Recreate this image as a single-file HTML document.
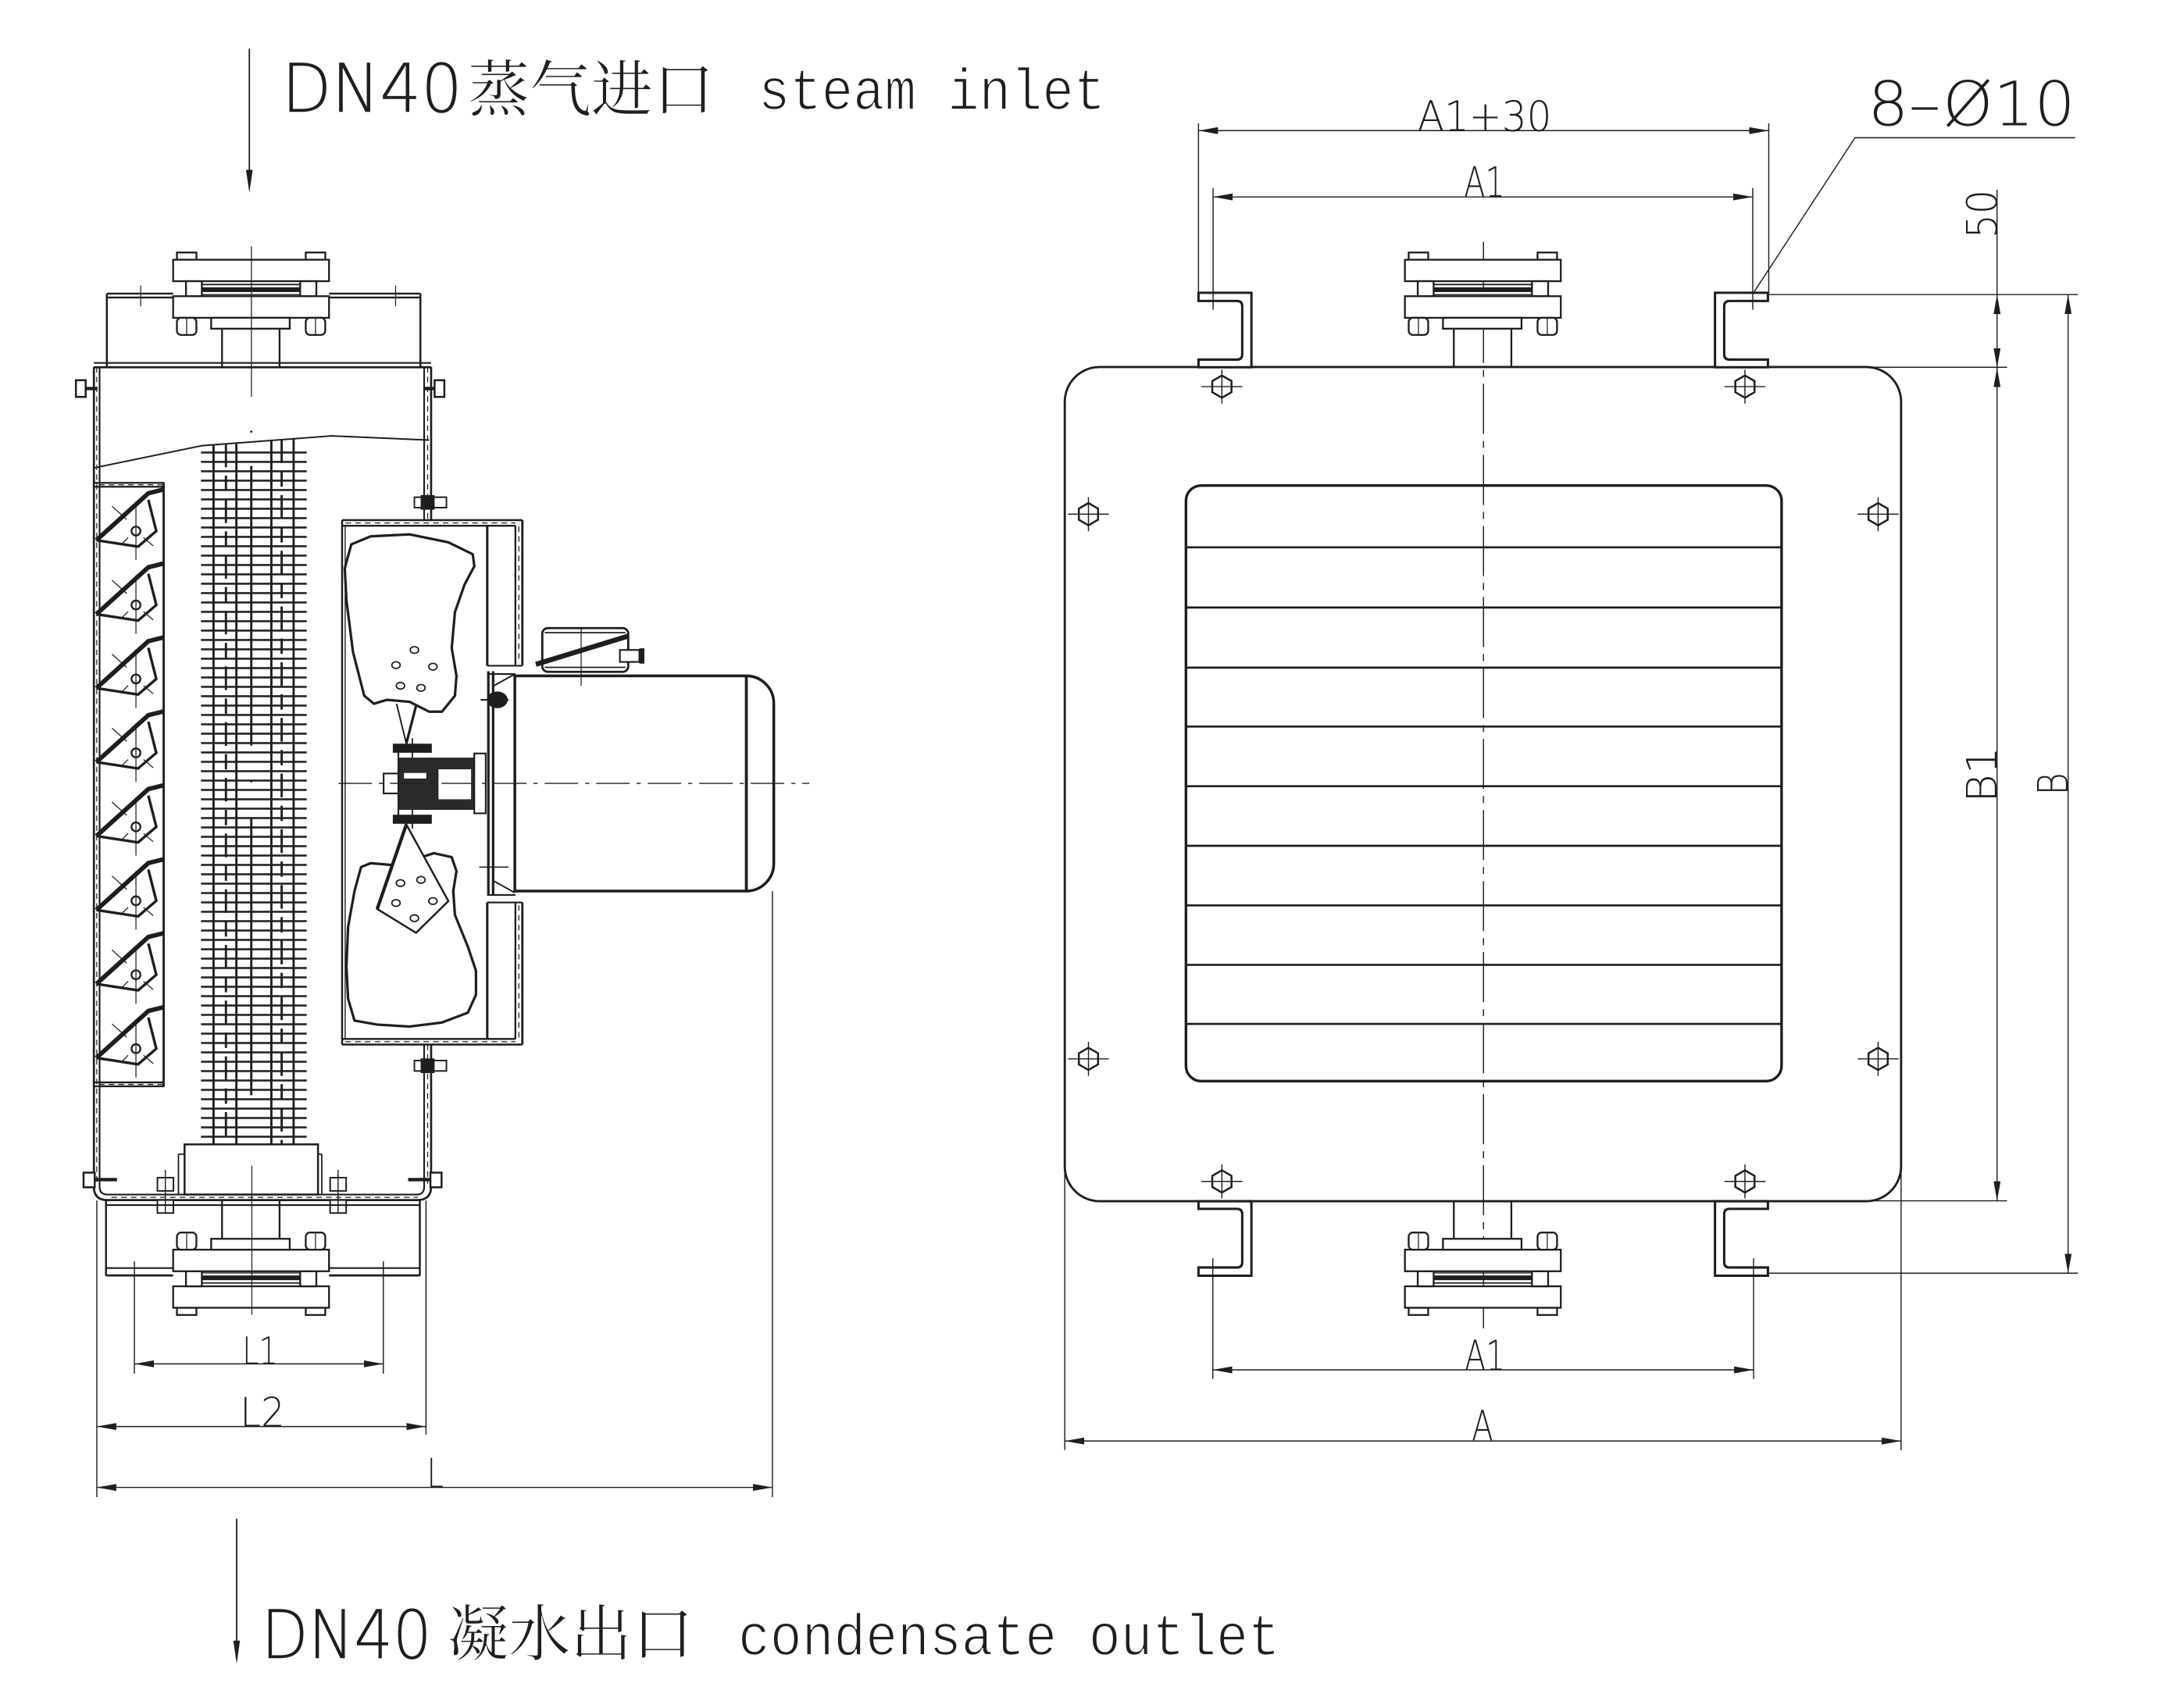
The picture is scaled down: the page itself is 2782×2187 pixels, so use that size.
<!DOCTYPE html>
<html><head><meta charset="utf-8">
<style>
html,body{margin:0;padding:0;background:#fff;}
svg{display:block;}
</style></head><body>
<svg xmlns="http://www.w3.org/2000/svg" width="2782" height="2187" viewBox="0 0 1560 1226.4" preserveAspectRatio="none">
<defs>
 <marker id="ar" viewBox="0 0 14 5" refX="14" refY="2.5" markerWidth="14" markerHeight="5" markerUnits="userSpaceOnUse" orient="auto-start-reverse"><path d="M0,0 L14,2.5 L0,5 z" fill="#1e1e1e"/></marker>
 <pattern id="fins" patternUnits="userSpaceOnUse" x="0" y="324.2" width="200" height="6.73"><rect x="0" y="0" width="200" height="1.45" fill="#222"/></pattern>
 <g id="lv" fill="none" stroke="#1e1e1e">
  <polyline points="69.2,387.9 106.5,354.2 117.8,351.4" stroke-width="3.2"/>
  <polyline points="69.2,387.9 99.1,392.5 112.2,381.3 106.5,358.9" stroke-width="1.9"/>
  <circle cx="97.6" cy="381.3" r="3.2" stroke-width="1.3"/>
  <line x1="97.6" y1="360" x2="97.6" y2="402" stroke-width="0.7"/>
  <line x1="80.4" y1="363.5" x2="91" y2="373" stroke-width="0.7"/>
  <line x1="103" y1="386" x2="110" y2="392" stroke-width="0.7"/>
  <line x1="92" y1="386" x2="87" y2="391" stroke-width="0.7"/>
 </g>
 <g id="mk" fill="none" stroke="#1e1e1e">
  <polygon points="0,-8 6.9,-4 6.9,4 0,8 -6.9,4 -6.9,-4" stroke-width="1.4"/>
  <line x1="-14.7" y1="0" x2="14.7" y2="0" stroke-width="0.8"/>
  <line x1="0" y1="-12.2" x2="0" y2="12.2" stroke-width="0.8"/>
 </g>
 <g id="fl" fill="#fff" stroke="#1e1e1e" stroke-width="1.3">
  <rect x="127" y="181.3" width="14" height="5.2"/>
  <rect x="219.5" y="181.3" width="14" height="5.2"/>
  <rect x="124.3" y="186.5" width="111.9" height="15.4"/>
  <rect x="133.5" y="201.9" width="11.4" height="10.8"/>
  <rect x="215.5" y="201.9" width="11.6" height="10.8"/>
  <line x1="145" y1="204.3" x2="215.5" y2="204.3" stroke-width="1"/>
  <rect x="145" y="206.3" width="70.5" height="3.4" fill="#1e1e1e" stroke="none"/>
  <line x1="145" y1="211.5" x2="215.5" y2="211.5" stroke-width="0.8"/>
  <rect x="124.3" y="212.7" width="111.9" height="15.5"/>
  <rect x="151.6" y="228.2" width="56.4" height="7.8"/>
  <rect x="127" y="228.2" width="14" height="12.3" rx="3"/>
  <rect x="219.5" y="228.2" width="14" height="12.3" rx="3"/>
  <line x1="134" y1="228.2" x2="134" y2="240.5" stroke-width="0.7"/>
  <line x1="226.5" y1="228.2" x2="226.5" y2="240.5" stroke-width="0.7"/>
  <line x1="159.4" y1="236" x2="159.4" y2="263.7"/>
  <line x1="200.7" y1="236" x2="200.7" y2="263.7"/>
 </g>
</defs>

<g fill="#1e1e1e" stroke="none">
 <!-- top label -->
 <text x="202.2" y="80.2" font-family="'DejaVu Sans','Liberation Sans',sans-serif" font-weight="200" font-size="48" textLength="129.7" lengthAdjust="spacingAndGlyphs" stroke="#1e1e1e" stroke-width="0.25">DN40</text>
 <text x="336" y="79.5" font-family="'Liberation Serif','Noto Serif CJK SC','Noto Sans CJK SC',serif" font-size="44" textLength="177" lengthAdjust="spacingAndGlyphs" stroke="#fff" stroke-width="0.4">蒸气进口</text>
 <text x="544.5" y="78.6" font-family="'Liberation Mono',monospace" font-size="42" textLength="249" lengthAdjust="spacingAndGlyphs" stroke="#fff" stroke-width="1">steam inlet</text>
 <!-- bottom label -->
 <text x="187.6" y="1190.4" font-family="'DejaVu Sans','Liberation Sans',sans-serif" font-weight="200" font-size="48" textLength="122.3" lengthAdjust="spacingAndGlyphs" stroke="#1e1e1e" stroke-width="0.25">DN40</text>
 <text x="321" y="1188.5" font-family="'Liberation Serif','Noto Serif CJK SC','Noto Sans CJK SC',serif" font-size="44" textLength="177" lengthAdjust="spacingAndGlyphs" stroke="#fff" stroke-width="0.4">凝水出口</text>
 <text x="529.9" y="1188.4" font-family="'Liberation Mono',monospace" font-size="42" textLength="389" lengthAdjust="spacingAndGlyphs" stroke="#fff" stroke-width="1">condensate outlet</text>

 <!-- dim labels -->
 <g font-family="'DejaVu Sans','Liberation Sans',sans-serif" font-weight="200">
  <text x="174" y="979.3" font-size="27" textLength="25.5" lengthAdjust="spacingAndGlyphs">L1</text>
  <text x="172.3" y="1024.3" font-size="29" textLength="32.2" lengthAdjust="spacingAndGlyphs">L2</text>
  <text x="306.5" y="1068" font-size="29" textLength="12" lengthAdjust="spacingAndGlyphs">L</text>
  <text x="1017.6" y="93.8" font-size="30" textLength="96.3" lengthAdjust="spacingAndGlyphs">A1+30</text>
  <text x="1051" y="141.4" font-size="30" textLength="29.4" lengthAdjust="spacingAndGlyphs">A1</text>
  <text x="1051.5" y="984" font-size="30" textLength="29.2" lengthAdjust="spacingAndGlyphs">A1</text>
  <text x="1056.6" y="1034.3" font-size="30" textLength="15.4" lengthAdjust="spacingAndGlyphs">A</text>
  <text x="1340.8" y="89.9" font-size="44" textLength="149" lengthAdjust="spacingAndGlyphs">8–Ø10</text>
  <text transform="translate(1433.3,153.7) rotate(-90)" text-anchor="middle" font-size="30" textLength="34.9" lengthAdjust="spacingAndGlyphs">50</text>
  <text transform="translate(1433.3,556.2) rotate(-90)" text-anchor="middle" font-size="30" textLength="40.3" lengthAdjust="spacingAndGlyphs">B1</text>
  <text transform="translate(1484.3,562.9) rotate(-90)" text-anchor="middle" font-size="30" textLength="16.2" lengthAdjust="spacingAndGlyphs">B</text>
 </g>
</g>

<g fill="none" stroke="#1e1e1e" stroke-width="1.4">
 <!-- flow arrows -->
 <line x1="179" y1="35" x2="179" y2="124" stroke-width="1"/>
 <polygon points="176.6,122 181.4,122 179,138.3" fill="#1e1e1e" stroke="none"/>
 <line x1="169.9" y1="1090.5" x2="169.9" y2="1180" stroke-width="1"/>
 <polygon points="167.5,1178 172.3,1178 169.9,1194.6" fill="#1e1e1e" stroke="none"/>

 <!-- ================= LEFT VIEW ================= -->
 <!-- hood -->
 <line x1="76.7" y1="210.8" x2="124.3" y2="210.8" stroke-width="1.3"/>
 <line x1="76.7" y1="213.6" x2="124.3" y2="213.6" stroke-width="1.3"/>
 <line x1="236.2" y1="210.8" x2="301.8" y2="210.8" stroke-width="1.3"/>
 <line x1="236.2" y1="213.6" x2="301.8" y2="213.6" stroke-width="1.3"/>
 <line x1="76.7" y1="210.8" x2="76.7" y2="263.5"/>
 <line x1="301.8" y1="210.8" x2="301.8" y2="263.5"/>
 <line x1="101" y1="205" x2="101" y2="220" stroke-width="0.7"/>
 <line x1="284" y1="205" x2="284" y2="220" stroke-width="0.7"/>
 <line x1="67.4" y1="260.6" x2="309.5" y2="260.6" stroke-width="1.2"/>
 <line x1="67.4" y1="263.7" x2="309.5" y2="263.7" stroke-width="1.5"/>
 <use href="#fl"/>
 <line x1="180.5" y1="176.7" x2="180.5" y2="284.8" stroke-width="0.7"/>
 <circle cx="180.4" cy="309.9" r="0.8" fill="#1e1e1e" stroke="none"/>

 <!-- body walls -->
 <path d="M67.4,263.5 V852 Q67.4,861.7 77,861.7 H299.5 Q309.5,861.7 309.5,852 V750" stroke-width="1.5"/>
 <path d="M71.5,263.5 V852 Q71.5,857.7 77,857.7 H299.5 Q304.5,857.7 304.5,852 V750" stroke-width="1.2"/>
 <line x1="69.45" y1="263.5" x2="69.45" y2="850" stroke-width="0.7" stroke-dasharray="4 3"/>
 <line x1="80" y1="859.7" x2="300" y2="859.7" stroke-width="0.7" stroke-dasharray="4 3"/>
 <line x1="304.5" y1="263.5" x2="304.5" y2="373.5" stroke-width="1.2"/>
 <line x1="309.5" y1="263.5" x2="309.5" y2="373.5" stroke-width="1.5"/>
 <line x1="307" y1="263.5" x2="307" y2="373.5" stroke-width="0.7" stroke-dasharray="4 3"/>
 <line x1="307" y1="750" x2="307" y2="850" stroke-width="0.7" stroke-dasharray="4 3"/>

 <!-- side bolts -->
 <rect x="54.5" y="273" width="7" height="12" fill="#fff"/>
 <line x1="61.5" y1="279" x2="70" y2="279" stroke-width="2.4"/>
 <rect x="312" y="273" width="7" height="12" fill="#fff"/>
 <line x1="304" y1="279" x2="312" y2="279" stroke-width="2.4"/>
 <rect x="60" y="842" width="8" height="10.5" fill="#fff"/>
 <line x1="68" y1="847" x2="84" y2="847" stroke-width="2.4"/>
 <rect x="309" y="842" width="8" height="10.5" fill="#fff"/>
 <line x1="293" y1="847" x2="309" y2="847" stroke-width="2.4"/>
 <!-- bolts on right wall -->
 <rect x="297.5" y="357" width="23" height="7.5" fill="#fff" stroke-width="1.1"/>
 <rect x="302" y="355.5" width="10" height="10.5" fill="#1e1e1e" stroke="none"/>
 <rect x="297.5" y="761.5" width="23" height="7.5" fill="#fff" stroke-width="1.1"/>
 <rect x="302" y="760" width="10" height="10.5" fill="#1e1e1e" stroke="none"/>

 <!-- tube sheet curve -->
 <polyline points="67.4,336 145,320 238,313 308,316" stroke-width="1.1"/>

 <!-- louver box -->
 <line x1="67.4" y1="346.7" x2="118" y2="346.7" stroke-width="1.3"/>
 <line x1="67.4" y1="349.5" x2="118" y2="349.5" stroke-width="1.3"/>
 <line x1="71" y1="348.1" x2="118" y2="348.1" stroke-width="0.7" stroke-dasharray="4 3"/>
 <line x1="67.4" y1="777.2" x2="118" y2="777.2" stroke-width="1.3"/>
 <line x1="67.4" y1="780" x2="118" y2="780" stroke-width="1.3"/>
 <line x1="71" y1="778.6" x2="118" y2="778.6" stroke-width="0.7" stroke-dasharray="4 3"/>
 <line x1="117.5" y1="346.7" x2="117.5" y2="780" stroke-width="1.6"/>
 <use href="#lv"/>
 <use href="#lv" transform="translate(0,53.1)"/>
 <use href="#lv" transform="translate(0,106.2)"/>
 <use href="#lv" transform="translate(0,159.3)"/>
 <use href="#lv" transform="translate(0,212.4)"/>
 <use href="#lv" transform="translate(0,265.5)"/>
 <use href="#lv" transform="translate(0,318.6)"/>
 <use href="#lv" transform="translate(0,371.7)"/>

 <!-- coil -->
 <rect x="144.3" y="322" width="75.9" height="497" fill="url(#fins)" stroke="none"/>
 <g stroke-width="1.6">
  <line x1="153.3" y1="319.5" x2="153.3" y2="822"/>
  <line x1="169.7" y1="318" x2="169.7" y2="822"/>
  <line x1="194.8" y1="316" x2="194.8" y2="822"/>
  <line x1="210.8" y1="315" x2="210.8" y2="822"/>
  <line x1="162.2" y1="318.5" x2="162.2" y2="822" stroke-dasharray="17 6 11 6"/>
  <line x1="202.2" y1="315.5" x2="202.2" y2="822" stroke-dasharray="17 6 11 6"/>
  <line x1="180.4" y1="334.6" x2="180.4" y2="535.3"/>
  <line x1="180.4" y1="586.8" x2="180.4" y2="786.4"/>
 </g>
 <circle cx="180.4" cy="561" r="0.8" fill="#1e1e1e" stroke="none"/>

 <!-- return box & bottom -->
 <rect x="132.5" y="821.7" width="95.8" height="36" fill="#fff"/>
 <line x1="128.1" y1="828.7" x2="128.1" y2="857.7" stroke-width="1"/>
 <line x1="231" y1="828.7" x2="231" y2="857.7" stroke-width="1"/>
 <line x1="128.1" y1="828.7" x2="132.5" y2="828.7" stroke-width="1"/>
 <line x1="228.3" y1="828.7" x2="231" y2="828.7" stroke-width="1"/>
 <!-- bottom bolts -->
 <rect x="113" y="845.6" width="11.5" height="9.5" fill="#fff" stroke-width="1.1"/>
 <rect x="113" y="861.7" width="11.5" height="9.3" fill="#fff" stroke-width="1.1"/>
 <line x1="118.7" y1="840" x2="118.7" y2="871" stroke-width="0.8"/>
 <rect x="237" y="845.6" width="11.5" height="9.5" fill="#fff" stroke-width="1.1"/>
 <rect x="237" y="861.7" width="11.5" height="9.3" fill="#fff" stroke-width="1.1"/>
 <line x1="242.7" y1="840" x2="242.7" y2="871" stroke-width="0.8"/>
 <!-- lower box -->
 <line x1="76.1" y1="865.3" x2="301.4" y2="865.3" stroke-width="1.2"/>
 <line x1="76.1" y1="861.7" x2="76.1" y2="916"/>
 <line x1="301.4" y1="861.7" x2="301.4" y2="916"/>
 <line x1="76.1" y1="910.5" x2="124.3" y2="910.5" stroke-width="1.2"/>
 <line x1="76.1" y1="915.8" x2="124.3" y2="915.8" stroke-width="1.5"/>
 <line x1="236.2" y1="910.5" x2="301.4" y2="910.5" stroke-width="1.2"/>
 <line x1="236.2" y1="915.8" x2="301.4" y2="915.8" stroke-width="1.5"/>
 <use href="#fl" transform="translate(0,1125.5) scale(1,-1)"/>
 <line x1="180.8" y1="837" x2="180.8" y2="944" stroke-width="0.7"/>

 <!-- fan box -->
 <line x1="245.6" y1="373.5" x2="375" y2="373.5" stroke-width="1.4"/>
 <line x1="245.6" y1="377.5" x2="370" y2="377.5" stroke-width="1.3"/>
 <line x1="248" y1="375.5" x2="370" y2="375.5" stroke-width="0.7" stroke-dasharray="4 3"/>
 <line x1="245.6" y1="750" x2="375" y2="750" stroke-width="1.4"/>
 <line x1="245.6" y1="746" x2="370" y2="746" stroke-width="1.3"/>
 <line x1="248" y1="748" x2="370" y2="748" stroke-width="0.7" stroke-dasharray="4 3"/>
 <line x1="245.6" y1="373.5" x2="245.6" y2="750" stroke-width="1.4"/>
 <line x1="247.8" y1="377.5" x2="247.8" y2="746" stroke-width="0.8"/>
 <line x1="349.8" y1="377.5" x2="349.8" y2="478" stroke-width="1.7"/>
 <line x1="349.8" y1="648" x2="349.8" y2="746" stroke-width="1.7"/>
 <line x1="370" y1="377.5" x2="370" y2="478" stroke-width="1.3"/>
 <line x1="375" y1="373.5" x2="375" y2="478" stroke-width="1.6"/>
 <line x1="372.5" y1="378" x2="372.5" y2="476" stroke-width="0.7" stroke-dasharray="4 3"/>
 <line x1="370" y1="648" x2="370" y2="746" stroke-width="1.3"/>
 <line x1="375" y1="648" x2="375" y2="750" stroke-width="1.6"/>
 <line x1="372.5" y1="650" x2="372.5" y2="746" stroke-width="0.7" stroke-dasharray="4 3"/>
 <line x1="349.8" y1="478" x2="375" y2="478" stroke-width="1.2"/>
 <line x1="349.8" y1="484" x2="370" y2="484" stroke-width="1.2"/>
 <line x1="349.8" y1="642.6" x2="370" y2="642.6" stroke-width="1.2"/>
 <line x1="349.8" y1="648" x2="375" y2="648" stroke-width="1.2"/>
 <line x1="350.6" y1="482" x2="350.6" y2="643" stroke-width="1.8"/>
 <line x1="354" y1="482" x2="354" y2="643" stroke-width="1.8"/>
 <line x1="354.5" y1="492.4" x2="369.6" y2="484" stroke-width="1.1"/>
 <line x1="354.5" y1="632.6" x2="369.6" y2="641" stroke-width="1.1"/>
 <ellipse cx="357" cy="502.5" rx="7.5" ry="6" fill="#1e1e1e" stroke="none"/>
 <line x1="345" y1="502.5" x2="365" y2="502.5" stroke-width="1.2"/>
 <line x1="344" y1="622.6" x2="365" y2="622.6" stroke-width="0.8"/>

 <!-- fan blades -->
 <polygon points="252.2,390.9 266.1,385.1 294.0,383.7 321.9,389.4 339.4,398.0 340.5,406.6 333.6,419.5 326.6,439.5 324.3,465.3 327.7,485.3 326.6,499.6 317.3,511.0 308.0,511.0 294.0,503.9 277.8,502.5 268.5,505.3 261.5,499.6 253.4,468.1 248.7,430.9 247.5,408.0" stroke-width="1.8" stroke-linejoin="round"/>
 <g stroke-width="1">
  <ellipse cx="297.5" cy="466.7" rx="3" ry="2.4"/>
  <ellipse cx="284.3" cy="477.6" rx="3" ry="2.4"/>
  <ellipse cx="310.8" cy="478.7" rx="3" ry="2.4"/>
  <ellipse cx="287.5" cy="492.4" rx="3" ry="2.4"/>
  <ellipse cx="302.2" cy="493.9" rx="3" ry="2.4"/>
 </g>
 <line x1="284.7" y1="505.3" x2="291.7" y2="533.9" stroke-width="1.1"/>
 <line x1="298.7" y1="506.7" x2="291.7" y2="533.9" stroke-width="1.8"/>
 <polygon points="259.2,622.6 266.1,619.8 282.4,621.2 294.0,618.3 311.5,612.6 324.3,615.5 327.7,625.5 325.4,639.8 326.6,656.9 335.9,679.8 341.7,697.0 341.7,714.2 335.9,727.1 317.3,734.2 294.0,737.1 270.8,735.7 254.5,732.8 249.9,717.1 248.7,694.1 249.9,665.5 254.5,639.8" stroke-width="1.8" stroke-linejoin="round"/>
 <polygon points="291.7,592 270.8,652.7 298.7,669.8 321.9,647" fill="#fff" stroke-width="1.4"/>
 <line x1="291.7" y1="592" x2="270.8" y2="652.7" stroke-width="2.4"/>
 <g stroke-width="1">
  <ellipse cx="287.5" cy="634.1" rx="3" ry="2.4"/>
  <ellipse cx="302.2" cy="631.8" rx="3" ry="2.4"/>
  <ellipse cx="284.3" cy="648.4" rx="3" ry="2.4"/>
  <ellipse cx="310.8" cy="647" rx="3" ry="2.4"/>
  <ellipse cx="297.5" cy="659.3" rx="3" ry="2.4"/>
 </g>

 <!-- hub -->
 <rect x="282" y="534" width="28" height="6.5" fill="#1e1e1e" stroke="none"/>
 <rect x="282" y="585" width="28" height="6.5" fill="#1e1e1e" stroke="none"/>
 <line x1="296" y1="530" x2="296" y2="545" stroke-width="1"/>
 <line x1="296" y1="581" x2="296" y2="595" stroke-width="1"/>
 <rect x="286" y="544" width="54.5" height="37.5" fill="#2a2a2a" stroke="none"/>
 <rect x="314.8" y="552.4" width="23.4" height="21.5" fill="#fff" stroke="none"/>
 <rect x="290" y="555" width="16" height="4" fill="#fff" stroke="none"/>
 <rect x="340.5" y="541" width="8.2" height="43" fill="#fff" stroke-width="1.2"/>
 <rect x="275.4" y="555.4" width="10.6" height="14.3" fill="#fff" stroke-width="1.2"/>
 <line x1="286" y1="540" x2="286" y2="586" stroke-width="1.2"/>

 <!-- motor -->
 <rect x="369.6" y="485.3" width="166.2" height="154.5" fill="#fff" stroke-width="2"/>
 <path d="M535.8,485.3 A19.7,19.7 0 0 1 555.5,505 V620.1 A19.7,19.7 0 0 1 535.8,639.8" stroke-width="2"/>
 <line x1="535.8" y1="485.3" x2="535.8" y2="639.8" stroke-width="2"/>
 <rect x="389.3" y="451" width="61.7" height="31.4" rx="4" fill="#fff" stroke-width="1.6"/>
 <line x1="391" y1="454.3" x2="449" y2="454.3" stroke-width="1"/>
 <line x1="391" y1="479.2" x2="449" y2="479.2" stroke-width="1"/>
 <line x1="384.7" y1="477" x2="451" y2="456.7" stroke-width="3.6"/>
 <rect x="445" y="466.7" width="14" height="8.6" fill="#fff" stroke-width="1.2"/>
 <rect x="459" y="465.5" width="3.6" height="11" fill="#1e1e1e" stroke="none"/>
 <line x1="417.2" y1="451" x2="417.2" y2="492.4" stroke-width="0.7"/>
 <line x1="243" y1="562.5" x2="581" y2="562.5" stroke-width="0.8" stroke-dasharray="24 5 3 5"/>

 <!-- left dims -->
 <g stroke-width="0.8">
  <line x1="96.5" y1="905.6" x2="96.5" y2="986.3"/>
  <line x1="275.2" y1="905.6" x2="275.2" y2="986.3"/>
  <line x1="96.5" y1="979.3" x2="275.2" y2="979.3" marker-start="url(#ar)" marker-end="url(#ar)"/>
  <line x1="69.5" y1="862" x2="69.5" y2="1075"/>
  <line x1="305.8" y1="862" x2="305.8" y2="1030"/>
  <line x1="69.5" y1="1024.3" x2="305.8" y2="1024.3" marker-start="url(#ar)" marker-end="url(#ar)"/>
  <line x1="554.5" y1="640" x2="554.5" y2="1075"/>
  <line x1="69.5" y1="1068" x2="554.5" y2="1068" marker-start="url(#ar)" marker-end="url(#ar)"/>
 </g>

 <!-- ================= RIGHT VIEW ================= -->
 <rect x="764.4" y="263.5" width="600.4" height="599" rx="25" ry="25" fill="#fff" stroke-width="1.6"/>
 <rect x="851.4" y="348.6" width="427.6" height="427.7" rx="11" ry="11" stroke-width="1.9"/>
 <g stroke-width="1.5">
  <line x1="851.4" y1="393" x2="1279" y2="393"/>
  <line x1="851.4" y1="436.2" x2="1279" y2="436.2"/>
  <line x1="851.4" y1="479.4" x2="1279" y2="479.4"/>
  <line x1="851.4" y1="521.7" x2="1279" y2="521.7"/>
  <line x1="851.4" y1="564.5" x2="1279" y2="564.5"/>
  <line x1="851.4" y1="607.3" x2="1279" y2="607.3"/>
  <line x1="851.4" y1="650.1" x2="1279" y2="650.1"/>
  <line x1="851.4" y1="692.8" x2="1279" y2="692.8"/>
  <line x1="851.4" y1="735.2" x2="1279" y2="735.2"/>
 </g>
 <line x1="1065" y1="173.6" x2="1065" y2="953.7" stroke-width="0.8" stroke-dasharray="36 5 5 5"/>

 <!-- markers -->
 <use href="#mk" transform="translate(877.2,277.6)"/>
 <use href="#mk" transform="translate(1252.7,277.6)"/>
 <use href="#mk" transform="translate(877.2,848.3)"/>
 <use href="#mk" transform="translate(1252.7,848.3)"/>
 <use href="#mk" transform="translate(781.4,369.2)"/>
 <use href="#mk" transform="translate(1348.3,369.2)"/>
 <use href="#mk" transform="translate(781.4,760.3)"/>
 <use href="#mk" transform="translate(1348.3,760.3)"/>

 <!-- brackets -->
 <g fill="#fff" stroke-width="1.7">
  <path d="M860.4,210.2 H898.4 V263.7 H860.4 V258.2 H888 Q891.8,258.2 891.8,254.5 V219.8 Q891.8,216.1 888,216.1 H860.4 Z"/>
  <path d="M1269.2,210.2 H1231.2 V263.7 H1269.2 V258.2 H1241.6 Q1237.8,258.2 1237.8,254.5 V219.8 Q1237.8,216.1 1241.6,216.1 H1269.2 Z"/>
  <path d="M860.4,916 H898.4 V862.5 H860.4 V868 H888 Q891.8,868 891.8,871.7 V906.4 Q891.8,910.1 888,910.1 H860.4 Z"/>
  <path d="M1269.2,916 H1231.2 V862.5 H1269.2 V868 H1241.6 Q1237.8,868 1237.8,871.7 V906.4 Q1237.8,910.1 1241.6,910.1 H1269.2 Z"/>
 </g>

 <!-- flanges right view -->
 <use href="#fl" transform="translate(884.3,0)"/>
 <use href="#fl" transform="translate(884.3,1125.5) scale(1,-1)"/>

 <!-- right dims -->
 <g stroke-width="0.8">
  <line x1="860.4" y1="88.6" x2="860.4" y2="210.2"/>
  <line x1="1269.8" y1="88.6" x2="1269.8" y2="210.2"/>
  <line x1="860.4" y1="93.8" x2="1269.8" y2="93.8" marker-start="url(#ar)" marker-end="url(#ar)"/>
  <line x1="870.9" y1="135" x2="870.9" y2="222.5"/>
  <line x1="1258.3" y1="135" x2="1258.3" y2="222.5"/>
  <line x1="870.9" y1="141.4" x2="1258.3" y2="141.4" marker-start="url(#ar)" marker-end="url(#ar)"/>
  <line x1="870.7" y1="903.5" x2="870.7" y2="990.1"/>
  <line x1="1258.9" y1="903.5" x2="1258.9" y2="990.1"/>
  <line x1="870.7" y1="983.6" x2="1258.9" y2="983.6" marker-start="url(#ar)" marker-end="url(#ar)"/>
  <line x1="764.4" y1="837" x2="764.4" y2="1041.2"/>
  <line x1="1364.8" y1="837" x2="1364.8" y2="1041.2"/>
  <line x1="764.4" y1="1034.7" x2="1364.8" y2="1034.7" marker-start="url(#ar)" marker-end="url(#ar)"/>
  <!-- leader -->
  <polyline points="1259.2,209.7 1331.7,98.9 1489.8,98.9"/>
  <!-- vertical dims -->
  <line x1="1269.8" y1="211.5" x2="1491.8" y2="211.5"/>
  <line x1="1340" y1="263.7" x2="1440.9" y2="263.7"/>
  <line x1="1340" y1="862.2" x2="1440.9" y2="862.2"/>
  <line x1="1269.8" y1="914.2" x2="1491.8" y2="914.2"/>
  <line x1="1433.7" y1="136.3" x2="1433.7" y2="264" marker-end="url(#ar)"/>
  <polygon points="1433.7,211.5 1431.2,225.5 1436.2,225.5" fill="#1e1e1e" stroke="none"/>
  <line x1="1433.7" y1="264" x2="1433.7" y2="862.2" marker-start="url(#ar)" marker-end="url(#ar)"/>
  <line x1="1484.7" y1="211.5" x2="1484.7" y2="914.2" marker-start="url(#ar)" marker-end="url(#ar)"/>
 </g>
</g>
</svg>
</body></html>
